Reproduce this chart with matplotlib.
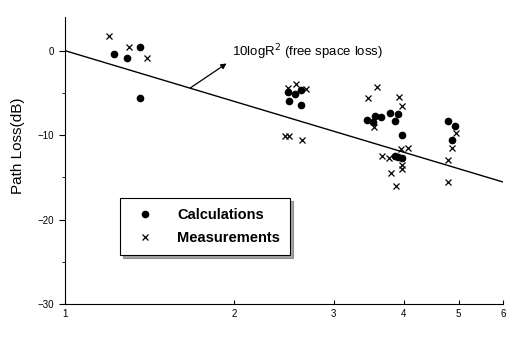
import matplotlib.pyplot as plt
import numpy as np

plt.rcParams['font.family'] = ['Liberation Sans', 'DejaVu Sans']

# Calculations (dots)
calc_r = [1.22, 1.29, 1.36, 1.36, 2.49, 2.56, 2.63, 2.50, 2.63,
          3.44, 3.55, 3.64, 3.53, 3.78, 3.85, 3.91, 3.97,
          3.86, 3.91, 3.96, 4.78, 4.93, 4.86]
calc_loss = [-0.35, -0.85, 0.39, -5.65, -4.95, -5.15, -4.64, -5.93, -6.4,
             -8.19, -7.76, -7.88, -8.46, -7.37, -8.34, -7.56, -10.0,
             -12.5, -12.6, -12.75, -8.34, -8.93, -10.6]

# Measurements (crosses)
meas_r = [1.20, 1.30, 1.40, 2.49, 2.57, 2.68, 2.46, 2.50, 2.64,
          3.58, 3.45, 3.92, 3.96, 3.54, 3.65, 3.76, 3.95, 4.07,
          3.97, 3.97, 3.79, 3.87, 4.95, 4.87, 4.78, 4.78]
meas_loss = [1.75, 0.39, -0.85, -4.48, -3.98, -4.56, -10.1, -10.1, -10.6,
             -4.29, -5.65, -5.53, -6.6, -9.05, -12.5, -12.75, -11.66, -11.5,
             -13.5, -14.0, -14.5, -16.0, -9.8, -11.5, -13.0, -15.6]

fig = plt.figure(figsize=(5.15, 3.37), dpi=100)
ax = fig.add_axes([0.126, 0.098, 0.851, 0.852])

# free space loss line
r = np.linspace(1, 6, 200)
ax.plot(r, -20 * np.log10(r), color='black', lw=1.0)

ax.plot(calc_r, calc_loss, 'o', color='black', ms=4.5, label='Calculations')
ax.plot(meas_r, meas_loss, 'x', color='black', ms=4.5, mew=0.9, label='Measurements')

# arrow from the line to the label
ax.annotate('', xy=(1.937, -1.52), xytext=(1.668, -4.44),
            arrowprops=dict(arrowstyle='-|>', color='black', lw=0.9,
                            shrinkA=0, shrinkB=0, mutation_scale=8))
ax.text(1.977, -0.23, '10logR$^2$ (free space loss)', fontsize=9.5, va='center')

ax.set_xscale('log')
ax.set_xlim(1, 6)
ax.set_ylim(-30, 4)
ax.set_xticks([1, 2, 3, 4, 5, 6])
ax.set_xticklabels(['1', '2', '3', '4', '5', '6'])
ax.xaxis.set_minor_locator(plt.NullLocator())
ax.set_yticks([-30, -20, -10, 0])
ax.set_yticks([-25, -15, -5], minor=True)
ax.tick_params(axis='both', labelsize=7, length=4, width=0.8)
ax.tick_params(axis='y', which='minor', length=2)
ax.tick_params(axis='x', direction='in', length=3)
ax.spines['top'].set_visible(False)
ax.spines['right'].set_visible(False)
ax.set_ylabel('Path Loss(dB)', fontsize=11)
ax.yaxis.set_label_coords(-0.09, 0.55)

leg = ax.legend(loc='upper left', bbox_to_anchor=(0.126, 0.369), borderaxespad=0,
                fontsize=10.5, frameon=True, fancybox=False, shadow=True,
                handletextpad=1.2, borderpad=0.7, labelspacing=0.6, markerscale=1.0)
leg.get_frame().set_edgecolor('black')
leg.get_frame().set_linewidth(0.8)
for t in leg.get_texts():
    t.set_fontweight('bold')

fig.savefig('out.png', dpi=100)
